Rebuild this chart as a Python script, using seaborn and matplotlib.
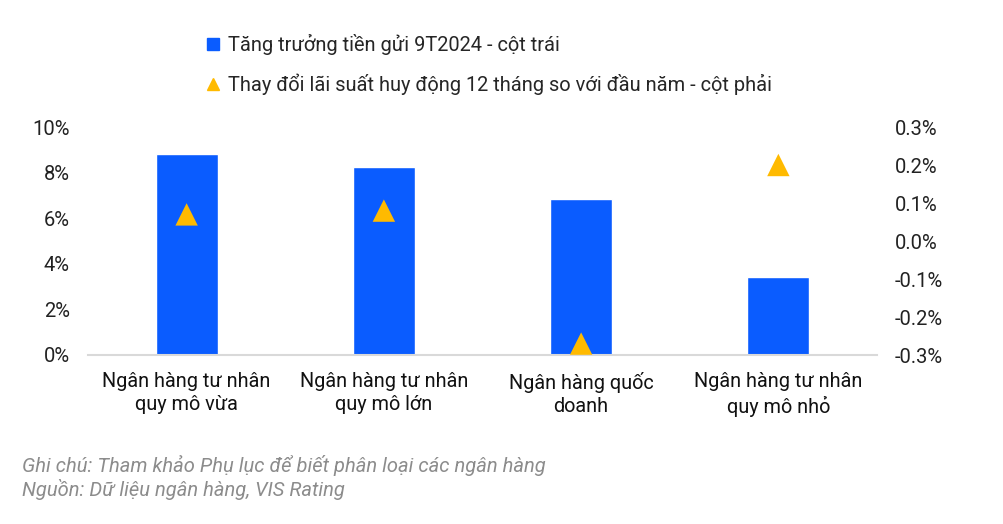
import matplotlib
matplotlib.use("Agg")
import matplotlib.pyplot as plt
import matplotlib.ticker as mticker
from matplotlib.lines import Line2D
import seaborn as sns
import pandas as pd

categories = ["Ngân hàng tư nhân\nquy mô vừa", "Ngân hàng tư nhân\nquy mô lớn",
              "Ngân hàng quốc\ndoanh", "Ngân hàng tư nhân\nquy mô nhỏ"]
deposit_growth = [8.8, 8.25, 6.85, 3.4]          # % left axis
rate_change = [0.07, 0.08, -0.27, 0.20]          # % right axis
left_ticks = [0, 2, 4, 6, 8, 10]
right_ticks = [-0.3, -0.2, -0.1, 0.0, 0.1, 0.2, 0.3]

legend_bar = "Tăng trưởng tiền gửi 9T2024 - cột trái"
legend_tri = "Thay đổi lãi suất huy động 12 tháng so với đầu năm - cột phải"
note1 = "Ghi chú: Tham khảo Phụ lục để biết phân loại các ngân hàng"
note2 = "Nguồn: Dữ liệu ngân hàng, VIS Rating"

BLUE = "#0A5CFF"
YELLOW = "#FFBA00"

sns.set_theme(style="white")
plt.rcParams["font.family"] = ["Roboto", "DejaVu Sans"]

df = pd.DataFrame({"cat": categories, "dep": deposit_growth, "rate": rate_change})

fig = plt.figure(figsize=(10.04, 5.24), dpi=100)
ax = fig.add_axes([88/1004, 1-355/524, (877-88)/1004, (355-127)/524])

sns.barplot(data=df, x="cat", y="dep", color=BLUE, width=0.315, ax=ax, saturation=1)
ax.set_xlim(-0.5, 3.5)
ax.set_ylim(0, 10)
ax.set_yticks(left_ticks)
ax.yaxis.set_major_formatter(mticker.FuncFormatter(lambda v, p: f"{v:.0f}%"))
ax.set_xlabel("")
ax.set_ylabel("")
for s in ["top", "right", "left"]:
    ax.spines[s].set_visible(False)
ax.spines["bottom"].set_color("#D9D9D9")
ax.spines["bottom"].set_linewidth(1.5)
ax.tick_params(axis="y", length=0, pad=13, labelsize=14.5, labelcolor="#222222")
ax.tick_params(axis="x", length=0, pad=12, labelsize=14.3, labelcolor="#111111")
for lbl in ax.get_xticklabels():
    lbl.set_linespacing(1.3)

ax2 = ax.twinx()
sns.scatterplot(data=df, x="cat", y="rate", marker="^", s=260, color=YELLOW,
                edgecolor="none", ax=ax2, zorder=5, legend=False)
ax2.set_ylim(-0.3, 0.3)
ax2.set_yticks(right_ticks)
ax2.yaxis.set_major_formatter(mticker.FuncFormatter(lambda v, p: f"{v:.1f}%"))
ax2.set_ylabel("")
ax2.set_xlabel("")
for s in ["top", "right", "left", "bottom"]:
    ax2.spines[s].set_visible(False)
ax2.tick_params(axis="y", length=0, pad=13, labelsize=14.5, labelcolor="#222222")
ax2.set_xlim(-0.5, 3.5)

handles = [Line2D([], [], marker="s", linestyle="none", color=BLUE, markersize=8),
           Line2D([], [], marker="^", linestyle="none", color=YELLOW, markersize=9)]
fig.legend(handles, [legend_bar, legend_tri], loc="upper left",
           bbox_to_anchor=(203/1004, 1-34/524), frameon=False, fontsize=14.4,
           handletextpad=0.25, labelspacing=0.9, handlelength=1.0,
           borderaxespad=0, borderpad=0)

fig.text(22/1004, 1-466/524, note1, fontsize=14.5, style="italic", color="#8C8C8C", va="center")
fig.text(22/1004, 1-490/524, note2, fontsize=14.5, style="italic", color="#8C8C8C", va="center")

fig.savefig("out.png", dpi=100)
